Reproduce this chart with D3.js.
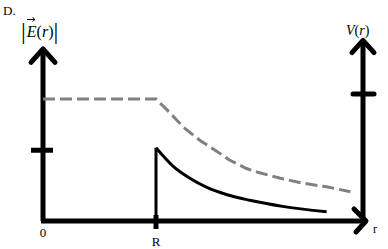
<!DOCTYPE html>
<meta charset="utf-8">
<script src="https://d3js.org/d3.v7.min.js"></script>
<style>
  body { margin: 0; background: #fff; }
  text { font-family: "Liberation Serif", "DejaVu Serif", serif; fill: #000; }
</style>
<div id="chart"></div>
<script>
// r in units of R, values relative to the flat V level inside the sphere
var vR = [0, 1.0, 1.12, 1.24, 1.39, 1.54, 1.65, 1.8, 1.9, 2.1, 2.3, 2.51, 2.72];
var vVal = [1.0, 1.0, 0.89, 0.77, 0.66, 0.57, 0.50, 0.43, 0.40, 0.35, 0.31, 0.28, 0.24];

var eR = [1.0, 1.0, 1.15, 1.3, 1.45, 1.63, 1.83, 2.12, 2.51];
var eVal = [0, 0.60, 0.45, 0.35, 0.275, 0.215, 0.17, 0.12, 0.075];

var xTicks = [{r: 0, label: "0"}, {r: 1, label: "R"}];
var leftTick = 0.58;
var rightTick = 1.04;

var width = 388, height = 249;

var svg = d3.select("#chart").append("svg")
  .attr("width", width)
  .attr("height", height);

var x = d3.scaleLinear().domain([0, 1]).range([43, 156]);
var y = d3.scaleLinear().domain([0, 1]).range([221, 99]);

var rEnd = x.invert(363);   // right vertical axis
var rTip = x.invert(366);   // tip of the r arrow

var ax = svg.append("g")
  .attr("stroke", "#000")
  .attr("stroke-width", 5)
  .attr("fill", "none")
  .attr("stroke-linecap", "round")
  .attr("stroke-linejoin", "round");

// left axis with arrow
ax.append("line").attr("x1", x(0)).attr("x2", x(0)).attr("y1", y(0)).attr("y2", y(1.41)).attr("stroke-linecap", "butt");
ax.append("path").attr("d", "M" + (x(0) - 12) + "," + y(1.30) + "L" + x(0) + "," + y(1.41) + "L" + (x(0) + 12) + "," + y(1.30));
// right axis with arrow
ax.append("line").attr("x1", x(rEnd)).attr("x2", x(rEnd)).attr("y1", y(0)).attr("y2", y(1.48)).attr("stroke-linecap", "butt");
ax.append("path").attr("d", "M" + (x(rEnd) - 11) + "," + y(1.38) + "L" + x(rEnd) + "," + y(1.48) + "L" + (x(rEnd) + 11) + "," + y(1.38));
// r axis with arrow
ax.append("line").attr("x1", x(0) - 2).attr("x2", x(rTip)).attr("y1", y(0)).attr("y2", y(0)).attr("stroke-linecap", "butt");
ax.append("path").attr("d", "M" + (x(rTip) - 12) + "," + (y(0) - 12) + "L" + x(rTip) + "," + y(0) + "L" + (x(rTip) - 10) + "," + (y(0) + 11));

// ticks
ax.append("line").attr("x1", x(0) - 12).attr("x2", x(0) + 10).attr("y1", y(leftTick)).attr("y2", y(leftTick)).attr("stroke-linecap", "butt");
ax.append("line").attr("x1", x(rEnd) - 10).attr("x2", x(rEnd) + 11).attr("y1", y(rightTick)).attr("y2", y(rightTick));
ax.append("line").attr("x1", x(1)).attr("x2", x(1)).attr("y1", y(0) - 6).attr("y2", y(0) + 8).attr("stroke-linecap", "butt");

var line = d3.line()
  .x(function(d) { return x(d[0]); })
  .y(function(d) { return y(d[1]); });

// V(r) dashed
svg.append("path")
  .datum(d3.zip(vR, vVal))
  .attr("d", line)
  .attr("fill", "none")
  .attr("stroke", "#808080")
  .attr("stroke-width", 3)
  .attr("stroke-dasharray", "12,5");

// |E(r)|: jump at R, then smooth decay
var ePts = d3.zip(eR, eVal);
svg.append("path")
  .datum(ePts.slice(0, 2))
  .attr("d", line)
  .attr("fill", "none")
  .attr("stroke", "#000")
  .attr("stroke-width", 3);

svg.append("path")
  .datum(ePts.slice(1))
  .attr("d", d3.line()
    .x(function(d) { return x(d[0]); })
    .y(function(d) { return y(d[1]); })
    .curve(d3.curveMonotoneX))
  .attr("fill", "none")
  .attr("stroke", "#000")
  .attr("stroke-width", 3);

// labels
svg.append("text").attr("x", 3).attr("y", 15).style("font-size", "13px").text("D.");

var eLab = svg.append("text").attr("x", 21).attr("y", 37).style("font-size", "16px");
eLab.append("tspan").style("font-size", "24px").attr("dy", 2).text("|");
eLab.append("tspan").attr("dy", -2).attr("dx", 1).style("font-style", "italic").text("E");
eLab.append("tspan").text("(");
eLab.append("tspan").style("font-style", "italic").text("r");
eLab.append("tspan").text(")");
eLab.append("tspan").style("font-size", "24px").attr("dy", 2).text("|");
// vector arrow over the E
svg.append("path")
  .attr("d", "M27,19.5H35M32.5,17.5L35,19.5L32.5,21.5")
  .attr("fill", "none")
  .attr("stroke", "#000")
  .attr("stroke-width", 1);

var vLab = svg.append("text").attr("x", 346).attr("y", 35).style("font-size", "14px");
vLab.append("tspan").style("font-style", "italic").text("V");
vLab.append("tspan").text("(");
vLab.append("tspan").style("font-style", "italic").text("r");
vLab.append("tspan").text(")");

svg.selectAll(".xl")
  .data(xTicks)
  .enter().append("text")
  .attr("x", function(d) { return x(d.r); })
  .attr("y", function(d) { return d.r === 0 ? 237 : 246; })
  .attr("text-anchor", "middle")
  .style("font-size", "13px")
  .text(function(d) { return d.label; });

svg.append("text").attr("x", 373).attr("y", 233).style("font-size", "12px").text("r");
</script>
